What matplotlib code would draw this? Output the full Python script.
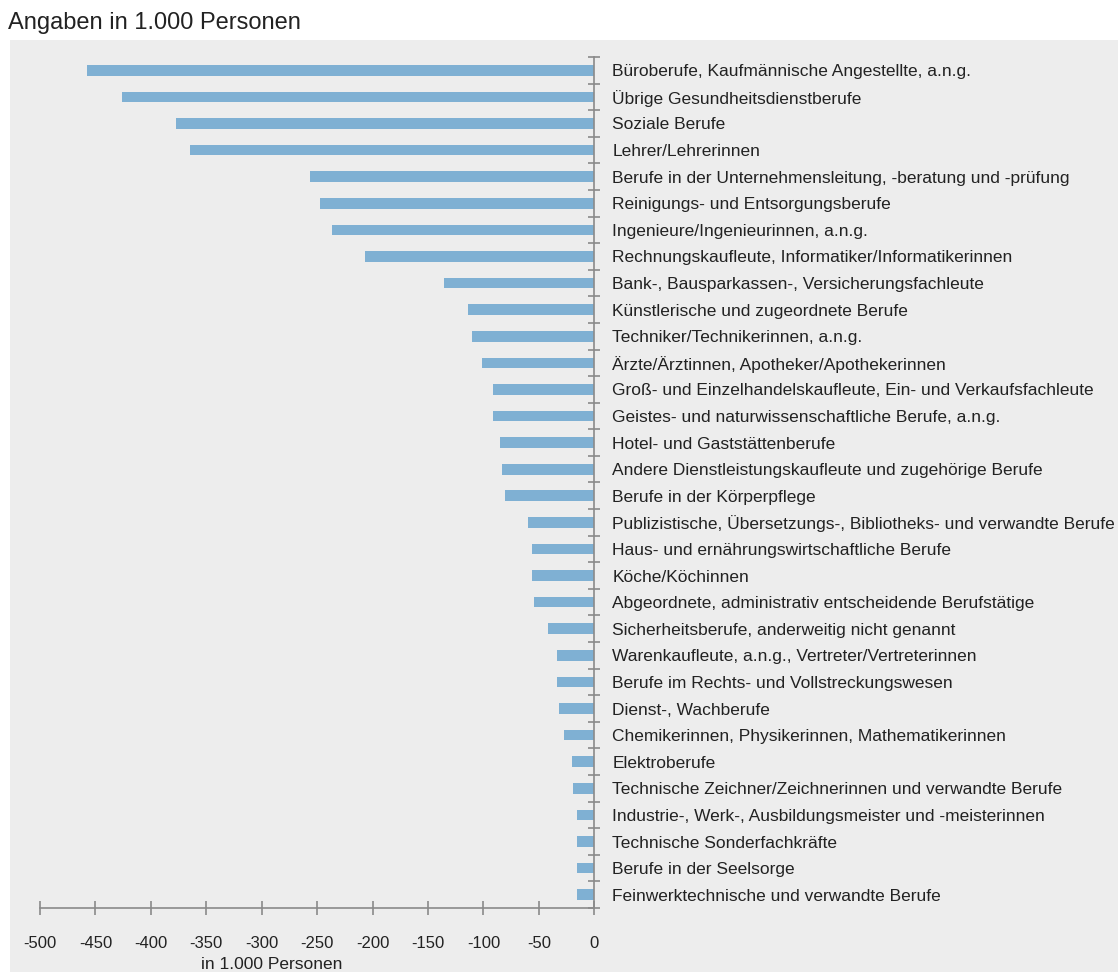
import matplotlib.pyplot as plt
import matplotlib.patches as mpatches
import numpy as np

# Berufe (von oben nach unten) und Werte in 1.000 Personen
berufe = [
    "Büroberufe, Kaufmännische Angestellte, a.n.g.",
    "Übrige Gesundheitsdienstberufe",
    "Soziale Berufe",
    "Lehrer/Lehrerinnen",
    "Berufe in der Unternehmensleitung, -beratung und -prüfung",
    "Reinigungs- und Entsorgungsberufe",
    "Ingenieure/Ingenieurinnen, a.n.g.",
    "Rechnungskaufleute, Informatiker/Informatikerinnen",
    "Bank-, Bausparkassen-, Versicherungsfachleute",
    "Künstlerische und zugeordnete Berufe",
    "Techniker/Technikerinnen, a.n.g.",
    "Ärzte/Ärztinnen, Apotheker/Apothekerinnen",
    "Groß- und Einzelhandelskaufleute, Ein- und Verkaufsfachleute",
    "Geistes- und naturwissenschaftliche Berufe, a.n.g.",
    "Hotel- und Gaststättenberufe",
    "Andere Dienstleistungskaufleute und zugehörige Berufe",
    "Berufe in der Körperpflege",
    "Publizistische, Übersetzungs-, Bibliotheks- und verwandte Berufe",
    "Haus- und ernährungswirtschaftliche Berufe",
    "Köche/Köchinnen",
    "Abgeordnete, administrativ entscheidende Berufstätige",
    "Sicherheitsberufe, anderweitig nicht genannt",
    "Warenkaufleute, a.n.g., Vertreter/Vertreterinnen",
    "Berufe im Rechts- und Vollstreckungswesen",
    "Dienst-, Wachberufe",
    "Chemikerinnen, Physikerinnen, Mathematikerinnen",
    "Elektroberufe",
    "Technische Zeichner/Zeichnerinnen und verwandte Berufe",
    "Industrie-, Werk-, Ausbildungsmeister und -meisterinnen",
    "Technische Sonderfachkräfte",
    "Berufe in der Seelsorge",
    "Feinwerktechnische und verwandte Berufe",
]
werte = [-458, -426, -377, -365, -256, -247, -237, -207, -136, -114, -110, -101,
         -91, -91, -85, -83, -81, -60, -56, -56, -54, -42, -34, -34, -32, -27,
         -20, -19, -16, -16, -16, -16]
x_ticks = [-500, -450, -400, -350, -300, -250, -200, -150, -100, -50, 0]

bg = "#ededed"
bar_color = "#7fb0d3"
axis_color = "#8a8a8a"
text_color = "#222222"

plt.rcParams["font.family"] = ["Liberation Sans", "DejaVu Sans"]

fig = plt.figure(figsize=(11.18, 9.72), dpi=100)
fig.patch.set_facecolor("white")
# grauer Hintergrund unterhalb des Titels
fig.patches.append(mpatches.Rectangle((10 / 1118, 0), 1 - 10 / 1118, 1 - 40 / 972,
                                      transform=fig.transFigure, facecolor=bg,
                                      edgecolor="none", zorder=-5))

ax = fig.add_axes([40 / 1118, 64 / 972, (594.3 - 40) / 1118, (908 - 57) / 972])
ax.set_facecolor(bg)

y = np.arange(len(berufe))
ax.barh(y, werte, height=0.4, color=bar_color, zorder=2)

ax.set_xlim(-500, 0)
ax.set_ylim(len(berufe) - 0.5, -0.5)

for s in ["top", "left"]:
    ax.spines[s].set_visible(False)
ax.spines["right"].set_color(axis_color)
ax.spines["bottom"].set_color(axis_color)
ax.spines["right"].set_linewidth(1.2)
ax.spines["bottom"].set_linewidth(1.2)

ax.set_xticks(x_ticks)
ax.set_xticklabels([str(t) for t in x_ticks], fontsize=12, color=text_color)
ax.tick_params(axis="x", direction="inout", length=10, color=axis_color, width=1.2, pad=15)

ax.yaxis.tick_right()
ax.set_yticks(y)
ax.set_yticklabels(berufe, fontsize=12.5, color=text_color)
ax.set_yticks(np.arange(-0.5, len(berufe), 1), minor=True)
ax.tick_params(axis="y", which="major", length=0, pad=13)
ax.tick_params(axis="y", which="minor", direction="inout", length=8, color=axis_color, width=1.2)

ax.set_xlabel("in 1.000 Personen", fontsize=12.5, color=text_color, labelpad=0)
ax.xaxis.set_label_coords(0.418, -0.058)

fig.text(8 / 1118, 1 - 23 / 972, "Angaben in 1.000 Personen", fontsize=17,
         color=text_color, va="center", ha="left")

plt.savefig("out.png", dpi=100)
